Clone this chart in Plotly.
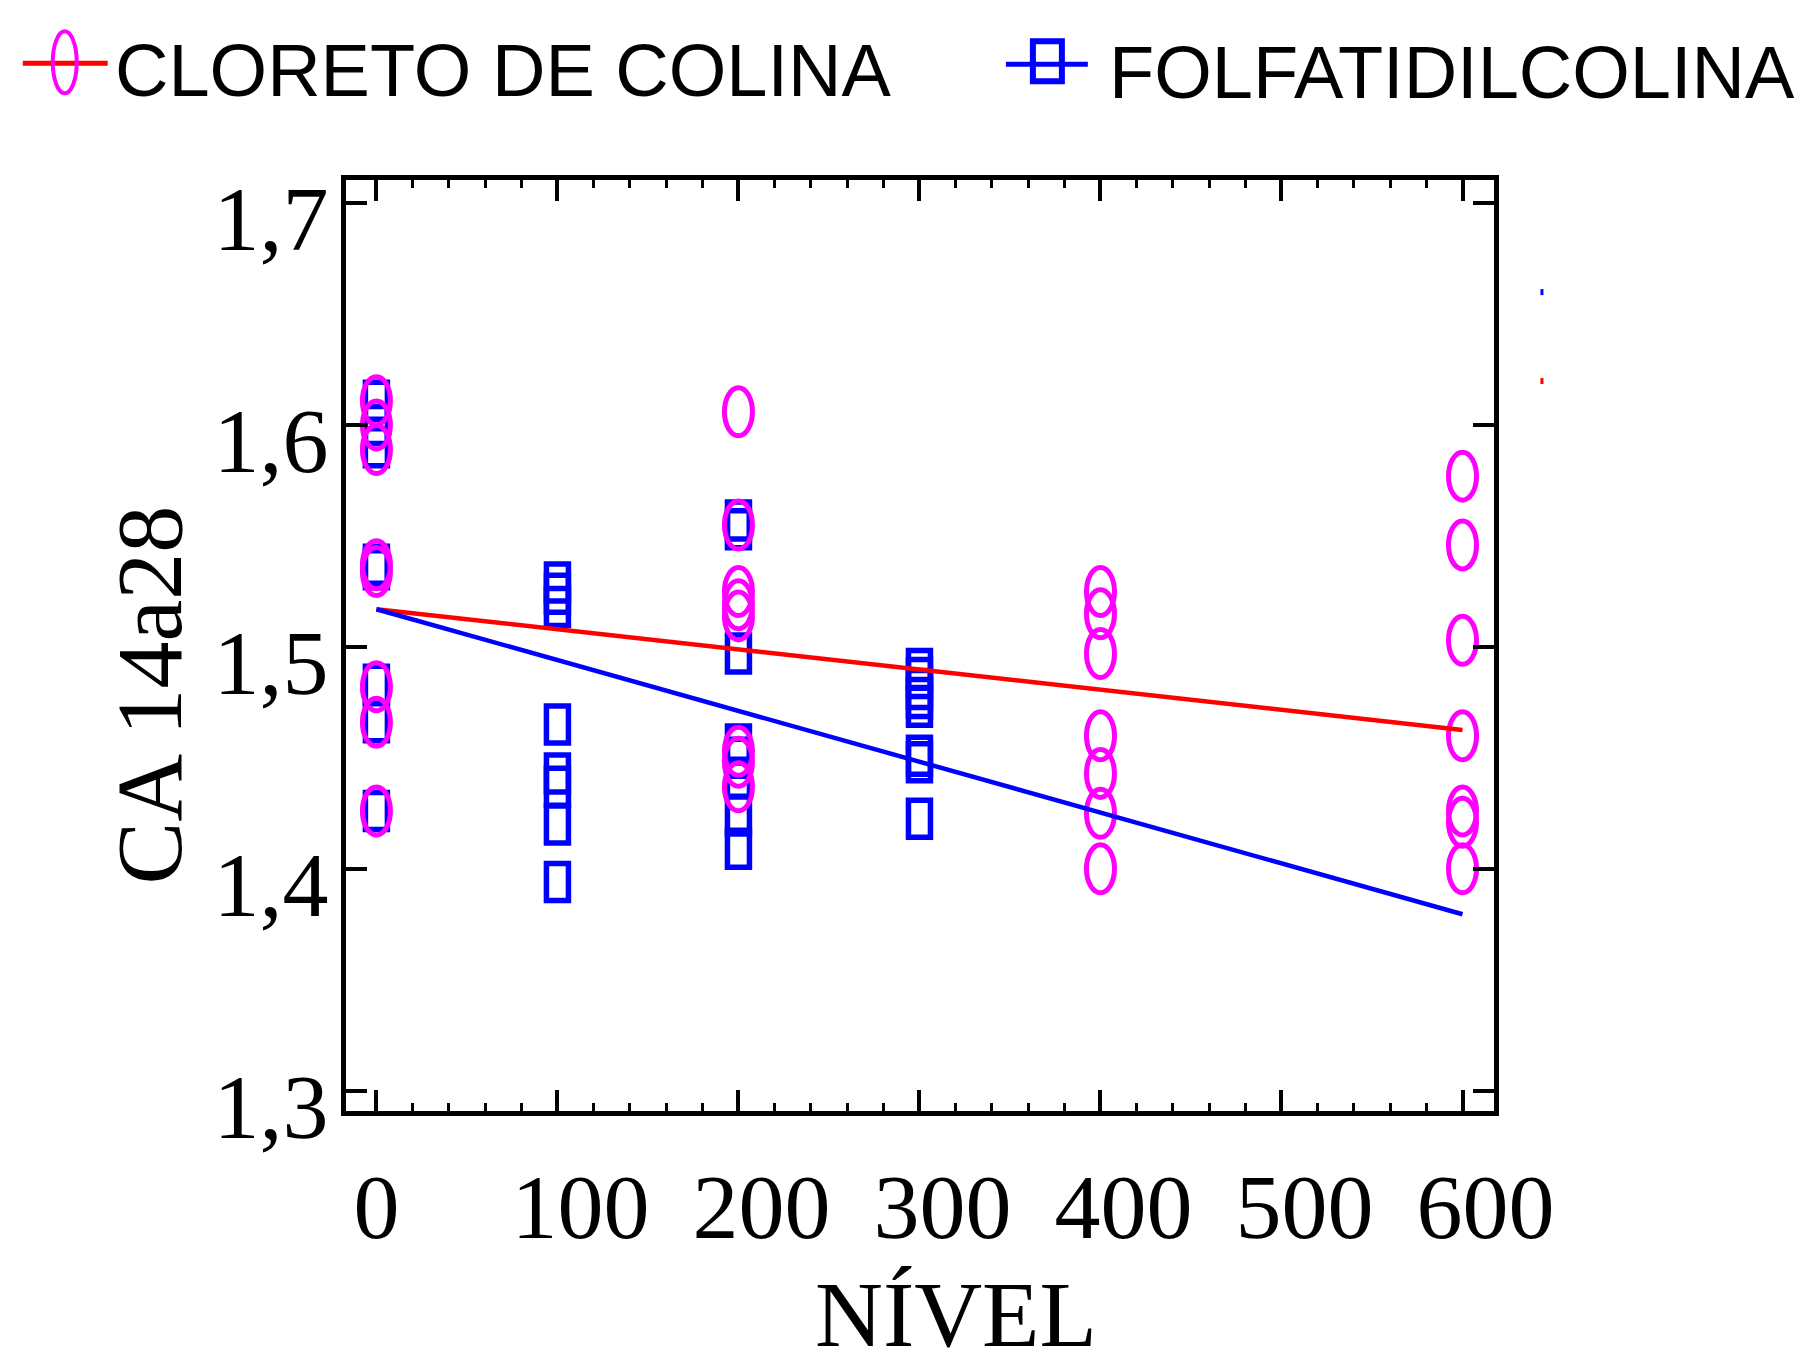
import plotly.graph_objects as go

# ---------------- data ----------------
cloreto_x = [0, 0, 0, 0, 0, 0, 0, 0,
             200, 200, 200, 200, 200, 200, 200, 200,
             400, 400, 400, 400, 400, 400, 400,
             600, 600, 600, 600, 600, 600, 600]
cloreto_y = [1.611, 1.600, 1.589, 1.537, 1.534, 1.482, 1.466, 1.426,
             1.606, 1.555, 1.525, 1.519, 1.514, 1.453, 1.448, 1.437,
             1.525, 1.515, 1.497, 1.460, 1.443, 1.425, 1.400,
             1.577, 1.546, 1.503, 1.460, 1.426, 1.421, 1.400]

fosf_x = [0, 0, 0, 0, 0, 0, 0, 0,
          100, 100, 100, 100, 100, 100, 100, 100,
          200, 200, 200, 200, 200, 200, 200, 200,
          300, 300, 300, 300, 300, 300, 300, 300]
fosf_y = [1.611, 1.600, 1.590, 1.537, 1.535, 1.483, 1.466, 1.426,
          1.529, 1.524, 1.518, 1.465, 1.443, 1.437, 1.420, 1.394,
          1.557, 1.553, 1.497, 1.456, 1.450, 1.441, 1.424, 1.409,
          1.490, 1.486, 1.481, 1.477, 1.473, 1.451, 1.448, 1.4225]

fit_x = [0, 600]
cloreto_fit = [1.517, 1.4626]
fosf_fit = [1.517, 1.3795]

x_ticks = [0, 100, 200, 300, 400, 500, 600]
y_ticks = [1.3, 1.4, 1.5, 1.6, 1.7]

name_cc = "CLORETO DE COLINA"
name_pc = "FOLFATIDILCOLINA"

# ---------------- styling ----------------
W, H = 1801, 1354
L, R, T, B = 345.5, 1494.5, 179.8, 1111.5   # plot domain in pixels
MAGENTA = "#ff00ff"
BLUE = "#0000ff"
RED = "#ff0000"
SERIF = "Liberation Serif, Times New Roman, serif"
SANS = "Liberation Sans, Arial, sans-serif"


def px_x(p):
    return (p - L) / (R - L)


def px_y(p):
    return (B - p) / (B - T)


fig = go.Figure()

# data traces (positions); visible marks drawn as anchored shapes below
fig.add_trace(go.Scatter(x=fosf_x, y=fosf_y, mode="markers", name=name_pc,
                         marker=dict(size=20, color="rgba(0,0,0,0)"),
                         showlegend=False))
fig.add_trace(go.Scatter(x=cloreto_x, y=cloreto_y, mode="markers", name=name_cc,
                         marker=dict(size=20, color="rgba(0,0,0,0)"),
                         showlegend=False))
fig.add_trace(go.Scatter(x=fit_x, y=cloreto_fit, mode="lines", name=name_cc + " fit",
                         line=dict(color=RED, width=4.5), showlegend=False))
fig.add_trace(go.Scatter(x=fit_x, y=fosf_fit, mode="lines", name=name_pc + " fit",
                         line=dict(color=BLUE, width=4.5), showlegend=False))

shapes = []
for xv, yv in zip(fosf_x, fosf_y):
    shapes.append(dict(type="rect", xref="x", yref="y",
                       xsizemode="pixel", ysizemode="pixel",
                       xanchor=xv, yanchor=yv, x0=-11, x1=11, y0=-18.5, y1=18.5,
                       line=dict(color=BLUE, width=5.5), layer="below"))
for xv, yv in zip(cloreto_x, cloreto_y):
    shapes.append(dict(type="circle", xref="x", yref="y",
                       xsizemode="pixel", ysizemode="pixel",
                       xanchor=xv, yanchor=yv, x0=-14, x1=14, y0=-24, y1=24,
                       line=dict(color=MAGENTA, width=5), layer="below"))

# manual legend symbols
shapes.append(dict(type="line", xref="paper", yref="paper",
                   x0=px_x(22), x1=px_x(107), y0=px_y(63), y1=px_y(63),
                   line=dict(color=RED, width=5)))
shapes.append(dict(type="circle", xref="paper", yref="paper",
                   x0=px_x(52), x1=px_x(76), y0=px_y(31), y1=px_y(93),
                   line=dict(color=MAGENTA, width=4)))
shapes.append(dict(type="line", xref="paper", yref="paper",
                   x0=px_x(1006), x1=px_x(1088), y0=px_y(64), y1=px_y(64),
                   line=dict(color=BLUE, width=5)))
shapes.append(dict(type="rect", xref="paper", yref="paper",
                   x0=px_x(1033), x1=px_x(1062), y0=px_y(41), y1=px_y(81),
                   line=dict(color=BLUE, width=6)))
# tiny stray marks at the right of the frame
shapes.append(dict(type="rect", xref="paper", yref="paper",
                   x0=px_x(1541), x1=px_x(1544), y0=px_y(289), y1=px_y(295),
                   line=dict(width=0), fillcolor=BLUE))
shapes.append(dict(type="rect", xref="paper", yref="paper",
                   x0=px_x(1541), x1=px_x(1544), y0=px_y(378), y1=px_y(384),
                   line=dict(width=0), fillcolor=RED))

annotations = [
    dict(text=name_cc, xref="paper", yref="paper", x=px_x(112), y=px_y(70),
         xanchor="left", yanchor="middle", showarrow=False,
         font=dict(family=SANS, size=74, color="black")),
    dict(text=name_pc, xref="paper", yref="paper", x=px_x(1107), y=px_y(72),
         xanchor="left", yanchor="middle", showarrow=False,
         font=dict(family=SANS, size=74, color="black")),
    dict(text="NÍVEL", xref="paper", yref="paper", x=px_x(956), y=px_y(1315),
         xanchor="center", yanchor="middle", showarrow=False,
         font=dict(family=SERIF, size=94, color="black")),
    dict(text="CA 14a28", xref="paper", yref="paper", x=px_x(148), y=px_y(695),
         xanchor="center", yanchor="middle", textangle=-90, showarrow=False,
         font=dict(family=SERIF, size=94, color="black")),
]

axis_common = dict(showgrid=False, zeroline=False, showline=True, linecolor="black",
                   linewidth=5, mirror="allticks", ticks="inside", ticklen=21,
                   tickwidth=4, tickcolor="black", automargin=False, tickangle=0,
                   tickfont=dict(family=SERIF, size=92, color="black"))

x_text = [str(v) if v == 0 else "\u2002" + str(v) for v in x_ticks]

fig.update_layout(
    width=W, height=H,
    margin=dict(l=L, r=W - R, t=T, b=H - B, pad=0, autoexpand=False),
    paper_bgcolor="white", plot_bgcolor="white",
    separators=",.",
    showlegend=False,
    shapes=shapes,
    annotations=annotations,
    xaxis=dict(range=[-16.8, 617.4], tickvals=x_ticks, ticktext=x_text,
               ticklabelstandoff=12,
               minor=dict(dtick=20, tick0=0, ticks="inside", ticklen=8, tickwidth=3,
                          tickcolor="black", showgrid=False),
               **axis_common),
    yaxis=dict(range=[1.2908, 1.7105], tickvals=y_ticks, tickformat=".1f",
               ticklabelshift=15, ticklabelstandoff=-6, **axis_common),
)

fig.write_html("out.html", config={"displayModeBar": False},
               post_script="document.body.style.margin='0';")
